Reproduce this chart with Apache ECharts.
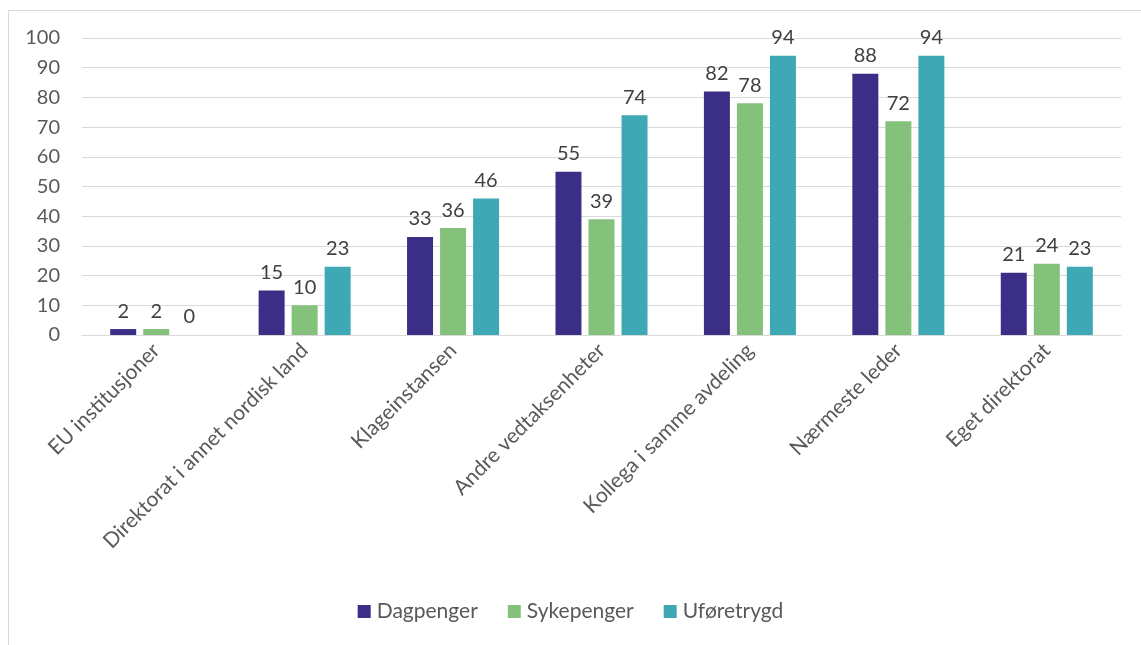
<!DOCTYPE html>
<html>
<head>
<meta charset="utf-8">
<script src="https://cdn.jsdelivr.net/npm/echarts@6/dist/echarts.min.js"></script>
<style>
html,body{margin:0;padding:0;background:#fff;}
#chart{width:1141px;height:645px;}
</style>
</head>
<body>
<div id="chart"></div>
<script>
const categories = ['EU institusjoner', 'Direktorat i annet nordisk land', 'Klageinstansen', 'Andre vedtaksenheter', 'Kollega i samme avdeling', 'Nærmeste leder', 'Eget direktorat'];
const dagpenger = [2, 15, 33, 55, 82, 88, 21];
const sykepenger = [2, 10, 36, 39, 78, 72, 24];
const uforetrygd = [0, 23, 46, 74, 94, 94, 23];
const yTicks = { min: 0, max: 100, interval: 10 };

const FONT = 'Lato, "Noto Sans", sans-serif';
const chart = echarts.init(document.getElementById('chart'), null, { renderer: 'canvas' });

function barSeries(name, data, color) {
  return {
    name, type: 'bar', data,
    barWidth: 26, barGap: '27%',
    itemStyle: { color },
    label: { show: true, position: 'top', distance: 8, color: '#404040', fontSize: 20, fontFamily: FONT }
  };
}

chart.setOption({
  animation: false,
  graphic: [{
    type: 'rect', silent: true,
    shape: { x: 8.5, y: 10.5, width: 1200, height: 700 },
    style: { fill: 'none', stroke: '#d9d9d9', lineWidth: 1 }
  }],
  grid: { left: 82, right: 20, top: 38, bottom: 310 },
  legend: {
    bottom: 18, left: 'center', itemWidth: 13, itemHeight: 13, itemGap: 30,
    icon: 'rect',
    textStyle: { color: '#595959', fontSize: 21, fontFamily: FONT, padding: [0, 0, 0, 1] },
    data: ['Dagpenger', 'Sykepenger', 'Uføretrygd']
  },
  xAxis: {
    type: 'category', data: categories,
    axisLine: { lineStyle: { color: '#d9d9d9' } },
    axisTick: { show: false },
    axisLabel: { rotate: 45, interval: 0, color: '#595959', fontSize: 21, fontFamily: FONT, margin: 12 }
  },
  yAxis: {
    type: 'value', min: yTicks.min, max: yTicks.max, interval: yTicks.interval,
    axisLine: { show: false }, axisTick: { show: false },
    axisLabel: { color: '#595959', fontSize: 20, fontFamily: FONT, margin: 22 },
    splitLine: { lineStyle: { color: '#d9d9d9', width: 1 } }
  },
  series: [
    barSeries('Dagpenger', dagpenger, '#3b2e86'),
    barSeries('Sykepenger', sykepenger, '#84c17a'),
    barSeries('Uføretrygd', uforetrygd, '#3ea8b4')
  ]
});
</script>
</body>
</html>
